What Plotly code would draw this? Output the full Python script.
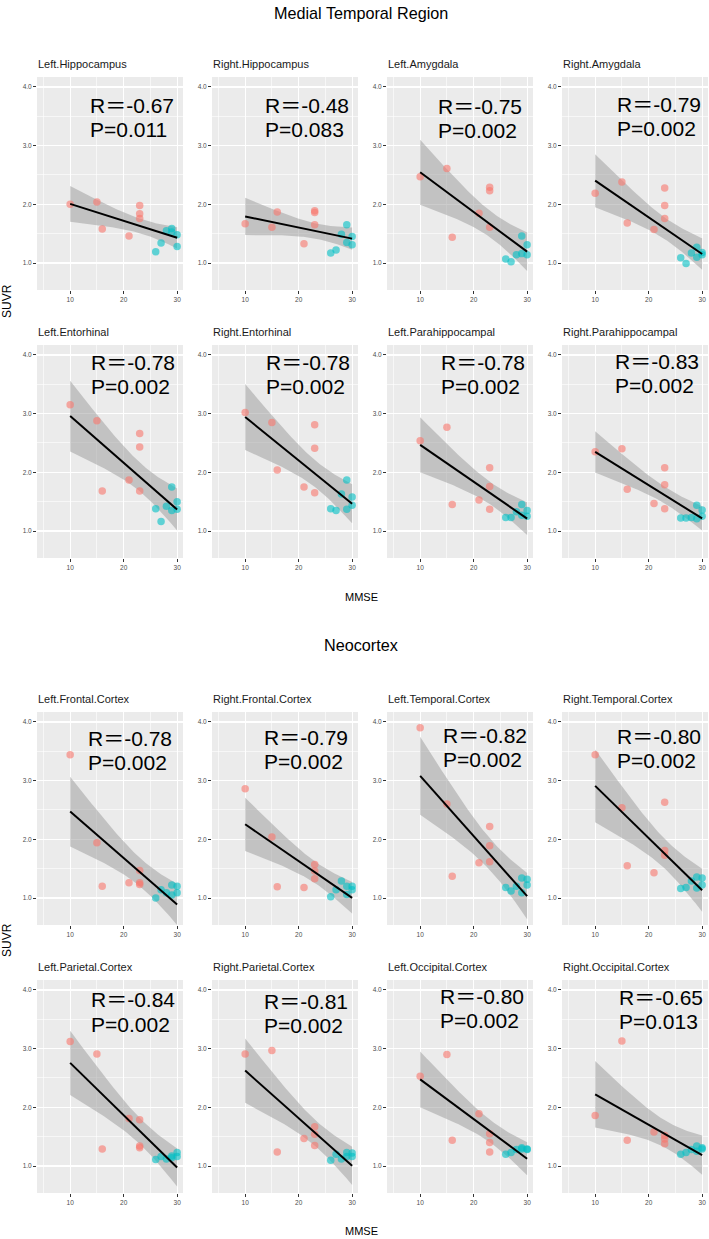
import numpy as np
import plotly.graph_objects as go

# ---------------- data ----------------
MMSE = [10, 15, 16, 21, 23, 23, 23, 26, 27, 28, 29, 29, 30, 30]
GROUP = ["AD", "AD", "AD", "AD", "AD", "AD", "AD",
         "NC", "NC", "NC", "NC", "NC", "NC", "NC"]

REGIONS = ["Left.Hippocampus", "Right.Hippocampus", "Left.Amygdala", "Right.Amygdala",
           "Left.Entorhinal", "Right.Entorhinal", "Left.Parahippocampal", "Right.Parahippocampal",
           "Left.Frontal.Cortex", "Right.Frontal.Cortex", "Left.Temporal.Cortex", "Right.Temporal.Cortex",
           "Left.Parietal.Cortex", "Right.Parietal.Cortex", "Left.Occipital.Cortex", "Right.Occipital.Cortex"]

LEFT_HIPPOCAMPUS = [2.00, 2.04, 1.58, 1.46, 1.98, 1.84, 1.76, 1.19, 1.34, 1.55, 1.59, 1.53, 1.48, 1.28]
RIGHT_HIPPOCAMPUS = [1.67, 1.61, 1.87, 1.33, 1.89, 1.86, 1.65, 1.17, 1.22, 1.49, 1.65, 1.35, 1.45, 1.31]
LEFT_AMYGDALA = [2.47, 2.61, 1.44, 1.85, 2.29, 2.23, 1.61, 1.07, 1.02, 1.14, 1.46, 1.16, 1.31, 1.14]
RIGHT_AMYGDALA = [2.19, 2.38, 1.68, 1.57, 2.28, 1.98, 1.76, 1.09, 0.99, 1.17, 1.27, 1.10, 1.18, 1.14]
LEFT_ENTORHINAL = [3.15, 2.88, 1.68, 1.87, 2.66, 2.43, 1.68, 1.38, 1.16, 1.42, 1.75, 1.35, 1.50, 1.37]
RIGHT_ENTORHINAL = [3.02, 2.85, 2.04, 1.75, 2.81, 2.41, 1.65, 1.38, 1.35, 1.63, 1.87, 1.37, 1.58, 1.44]
LEFT_PARAHIPPOCAMPAL = [2.54, 2.77, 1.45, 1.53, 2.08, 1.76, 1.37, 1.23, 1.23, 1.33, 1.45, 1.27, 1.35, 1.25]
RIGHT_PARAHIPPOCAMPAL = [2.35, 2.40, 1.71, 1.47, 2.08, 1.79, 1.38, 1.22, 1.22, 1.23, 1.44, 1.21, 1.36, 1.25]
LEFT_FRONTAL = [3.44, 1.94, 1.20, 1.26, 1.47, 1.26, 1.23, 1.00, 1.14, 1.09, 1.22, 1.05, 1.20, 1.09]
RIGHT_FRONTAL = [2.86, 2.04, 1.19, 1.18, 1.57, 1.46, 1.33, 1.02, 1.14, 1.29, 1.20, 1.06, 1.20, 1.14]
LEFT_TEMPORAL = [3.90, 2.60, 1.37, 1.60, 2.22, 1.89, 1.62, 1.18, 1.12, 1.20, 1.34, 1.09, 1.32, 1.22]
RIGHT_TEMPORAL = [3.44, 2.54, 1.55, 1.43, 2.63, 1.81, 1.73, 1.16, 1.18, 1.29, 1.36, 1.17, 1.34, 1.22]
LEFT_PARIETAL = [3.12, 2.91, 1.29, 1.81, 1.79, 1.34, 1.31, 1.11, 1.16, 1.12, 1.17, 1.14, 1.23, 1.16]
RIGHT_PARIETAL = [2.91, 2.97, 1.24, 1.47, 1.67, 1.54, 1.35, 1.10, 1.20, 1.12, 1.23, 1.16, 1.22, 1.16]
LEFT_OCCIPITAL = [2.53, 2.90, 1.44, 1.89, 1.55, 1.40, 1.24, 1.20, 1.23, 1.28, 1.29, 1.31, 1.29, 1.28]
RIGHT_OCCIPITAL = [1.86, 3.13, 1.44, 1.58, 1.52, 1.46, 1.38, 1.20, 1.23, 1.28, 1.34, 1.25, 1.31, 1.29]

SUVR = [LEFT_HIPPOCAMPUS, RIGHT_HIPPOCAMPUS, LEFT_AMYGDALA, RIGHT_AMYGDALA,
        LEFT_ENTORHINAL, RIGHT_ENTORHINAL, LEFT_PARAHIPPOCAMPAL, RIGHT_PARAHIPPOCAMPAL,
        LEFT_FRONTAL, RIGHT_FRONTAL, LEFT_TEMPORAL, RIGHT_TEMPORAL,
        LEFT_PARIETAL, RIGHT_PARIETAL, LEFT_OCCIPITAL, RIGHT_OCCIPITAL]

R_LABELS = ["-0.67", "-0.48", "-0.75", "-0.79", "-0.78", "-0.78", "-0.78", "-0.83",
            "-0.78", "-0.79", "-0.82", "-0.80", "-0.84", "-0.81", "-0.80", "-0.65"]
P_LABELS = ["0.011", "0.083", "0.002", "0.002", "0.002", "0.002", "0.002", "0.002",
            "0.002", "0.002", "0.002", "0.002", "0.002", "0.002", "0.002", "0.013"]

X_TICKS = [10, 20, 30]
Y_TICKS = [1.0, 2.0, 3.0, 4.0]
Y_TICK_LABELS = ["1.0", "2.0", "3.0", "4.0"]

# ---------------- layout constants ----------------
W, H = 709, 1239
COL_LEFT = [37, 212, 387, 562]
ROW_TOP = [77, 345, 712, 980]
PW, PH = 146, 213
XR = [3.8, 31.1]
YR = [0.54, 4.17]
R_Y = [3.68, 3.68, 3.67, 3.70, 3.87, 3.87, 3.87, 3.89,
       3.72, 3.73, 3.77, 3.75, 3.83, 3.80, 3.89, 3.87]
TXT_X = [13.3, 13.3, 13.0, 13.7, 13.5, 13.5, 13.5, 13.3,
         13.0, 13.2, 13.9, 13.7, 13.5, 13.2, 13.3, 14.1]
T_CRIT = 2.179  # t(0.975, df=12)

SANS = "Liberation Sans, Arial, Noto Sans CJK SC"
PINK = "rgba(248,118,109,0.6)"
CYAN = "rgba(0,191,196,0.6)"


def px(x):
    return x / W


def py(y):
    return 1 - y / H


fig = go.Figure()
layout = dict(width=W, height=H, margin=dict(l=0, r=0, t=0, b=0),
              paper_bgcolor="white", plot_bgcolor="#EBEBEB", showlegend=False)
annotations = []

x_arr = np.array(MMSE, dtype=float)
for i, (name, vals) in enumerate(zip(REGIONS, SUVR)):
    k = i + 1
    row, col = i // 4, i % 4
    xa = "x" if k == 1 else f"x{k}"
    ya = "y" if k == 1 else f"y{k}"
    y_arr = np.array(vals, dtype=float)

    # linear fit + 95% CI (as geom_smooth(method="lm"))
    n = len(x_arr)
    xm = x_arr.mean()
    sxx = ((x_arr - xm) ** 2).sum()
    slope = ((x_arr - xm) * (y_arr - y_arr.mean())).sum() / sxx
    icpt = y_arr.mean() - slope * xm
    resid = y_arr - (icpt + slope * x_arr)
    s = np.sqrt((resid ** 2).sum() / (n - 2))
    xg = np.linspace(x_arr.min(), x_arr.max(), 80)
    yg = icpt + slope * xg
    se = s * np.sqrt(1 / n + (xg - xm) ** 2 / sxx)
    lo, hi = yg - T_CRIT * se, yg + T_CRIT * se

    fig.add_trace(go.Scatter(x=np.concatenate([xg, xg[::-1]]), y=np.concatenate([lo, hi[::-1]]),
                             fill="toself", fillcolor="rgba(153,153,153,0.5)", mode="lines",
                             line=dict(width=0), xaxis=xa, yaxis=ya, hoverinfo="skip"))
    for grp, colr in (("AD", PINK), ("NC", CYAN)):
        xs = [m for m, g in zip(MMSE, GROUP) if g == grp]
        ys = [v for v, g in zip(vals, GROUP) if g == grp]
        fig.add_trace(go.Scatter(x=xs, y=ys, mode="markers", xaxis=xa, yaxis=ya,
                                 marker=dict(size=7.5, color=colr, line=dict(width=0))))
    fig.add_trace(go.Scatter(x=xg, y=yg, mode="lines", line=dict(color="black", width=2),
                             xaxis=xa, yaxis=ya))

    L = COL_LEFT[col]
    T = ROW_TOP[row]
    axkey = "xaxis" if k == 1 else f"xaxis{k}"
    aykey = "yaxis" if k == 1 else f"yaxis{k}"
    layout[axkey] = dict(domain=[px(L), px(L + PW)], range=XR, anchor=ya,
                         tickvals=X_TICKS, ticktext=[str(t) for t in X_TICKS],
                         ticks="outside", ticklen=3, tickwidth=1, tickcolor="#333333",
                         tickfont=dict(size=6.5, color="#4D4D4D", family=SANS),
                         showgrid=True, gridcolor="white", gridwidth=1.2,
                         minor=dict(tickvals=[5, 15, 25], showgrid=True, gridcolor="white",
                                    gridwidth=0.6, ticks=""),
                         zeroline=False, showline=False, fixedrange=True)
    layout[aykey] = dict(domain=[py(T + PH), py(T)], range=YR, anchor=xa,
                         tickvals=Y_TICKS, ticktext=Y_TICK_LABELS,
                         ticks="outside", ticklen=3, tickwidth=1, tickcolor="#333333",
                         tickfont=dict(size=6.5, color="#4D4D4D", family=SANS),
                         showgrid=True, gridcolor="white", gridwidth=1.2,
                         minor=dict(tickvals=[1.5, 2.5, 3.5], showgrid=True, gridcolor="white",
                                    gridwidth=0.6, ticks=""),
                         zeroline=False, showline=False, fixedrange=True)

    # strip title
    annotations.append(dict(x=px(L - 1), y=py(T - 13), xref="paper", yref="paper",
                            text=name, showarrow=False, xanchor="left", yanchor="middle",
                            font=dict(size=11, color="#1A1A1A", family=SANS)))
    # R / P labels
    annotations.append(dict(x=TXT_X[i], y=R_Y[i], xref=xa, yref=ya, text="R＝" + R_LABELS[i],
                            showarrow=False, xanchor="left", yanchor="middle",
                            font=dict(size=21, color="black", family=SANS)))
    annotations.append(dict(x=TXT_X[i], y=R_Y[i] - 0.41, xref=xa, yref=ya, text="P=" + P_LABELS[i],
                            showarrow=False, xanchor="left", yanchor="middle",
                            font=dict(size=21, color="black", family=SANS)))

# section titles and axis titles
for txt, yy in (("Medial Temporal Region", 13), ("Neocortex", 645)):
    annotations.append(dict(x=px(361), y=py(yy), xref="paper", yref="paper", text=txt,
                            showarrow=False, xanchor="center", yanchor="middle",
                            font=dict(size=16.2, color="black", family=SANS)))
for yy in (301, 940):
    annotations.append(dict(x=px(7), y=py(yy), xref="paper", yref="paper", text="SUVR",
                            showarrow=False, xanchor="center", yanchor="middle", textangle=-90,
                            font=dict(size=12, color="black", family=SANS)))
for yy in (597, 1231):
    annotations.append(dict(x=px(361), y=py(yy), xref="paper", yref="paper", text="MMSE",
                            showarrow=False, xanchor="center", yanchor="middle",
                            font=dict(size=11, color="black", family=SANS)))

layout["annotations"] = annotations
fig.update_layout(**layout)
fig.write_html("out.html",
               config={"displayModeBar": False, "staticPlot": True},
               post_script="document.body.style.margin='0px';"
                           "document.body.style.padding='0px';"
                           "document.documentElement.style.overflow='hidden';")
